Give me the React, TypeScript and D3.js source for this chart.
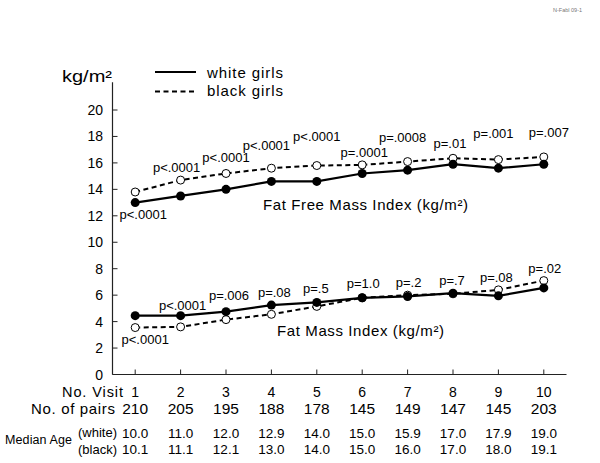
import * as d3 from "d3";

const visits = [1, 2, 3, 4, 5, 6, 7, 8, 9, 10];
const ffmiWhite = [13.0, 13.5, 14.0, 14.6, 14.6, 15.2, 15.45, 15.9, 15.6, 15.9];
const ffmiBlack = [13.8, 14.7, 15.2, 15.6, 15.8, 15.85, 16.1, 16.35, 16.25, 16.45];
const fmiWhite = [4.45, 4.45, 4.75, 5.25, 5.45, 5.8, 5.9, 6.15, 5.95, 6.55];
const fmiBlack = [3.55, 3.6, 4.15, 4.55, 5.15, 5.8, 6.0, 6.1, 6.4, 7.1];
const ffmiP = ["p<.0001", "p<.0001", "p<.0001", "p<.0001", "p<.0001", "p=.0001", "p=.0008", "p=.01", "p=.001", "p=.007"];
const fmiP = ["p<.0001", "p<.0001", "p=.006", "p=.08", "p=.5", "p=1.0", "p=.2", "p=.7", "p=.08", "p=.02"];
const pairs = [210, 205, 195, 188, 178, 145, 149, 147, 145, 203];
const ageWhite = ["10.0", "11.0", "12.0", "12.9", "14.0", "15.0", "15.9", "17.0", "17.9", "19.0"];
const ageBlack = ["10.1", "11.1", "12.1", "13.0", "14.0", "15.0", "16.0", "17.0", "18.0", "19.1"];
const yTicks = [0, 2, 4, 6, 8, 10, 12, 14, 16, 18, 20];

// where the p-value labels sit, relative to the upper point of each pair (px)
const ffmiLabelDx = [8, -4, 0, -5, 0, 2, -5, -3, -5, 5];
const ffmiLabelDy = [23, -13, -16, -23, -29, -12, -24, -15, -26, -24];
const fmiLabelDx = [10, 2, 3, 3, -1, 1, 1, -1, -2, 1];
const fmiLabelDy = [24, -10, -16, -13, -14, -14, -13, -13, -12, -12];

const font = "'Liberation Sans', Arial, Helvetica, sans-serif";

export default function App() {
  const width = 600,
    height = 463;
  const x = d3.scaleLinear().domain([0.5, 10.5]).range([112.5, 566.5]);
  const y = d3.scaleLinear().domain([0, 20]).range([374.5, 110]);

  const line = d3
    .line<number>()
    .x((d, i) => x(visits[i]))
    .y((d) => y(d));

  const series = [
    { white: ffmiWhite, black: ffmiBlack, p: ffmiP, dx: ffmiLabelDx, dy: ffmiLabelDy },
    { white: fmiWhite, black: fmiBlack, p: fmiP, dx: fmiLabelDx, dy: fmiLabelDy },
  ];

  return (
    <svg
      width={width}
      height={height}
      style={{ position: "absolute", left: 0, top: 0, background: "#fff" }}
      fontFamily={font}
    >
      <rect x={0} y={0} width={width} height={height} fill="#fff" />
      <text x={553} y={12} fontSize={5.5} fill="#777">
        N-Fabl 09-1
      </text>

      {/* y axis */}
      <line x1={x(0.5)} x2={x(0.5)} y1={y(22.1)} y2={y(0)} stroke="#222" strokeWidth={1.2} />
      {yTicks.map((t) => (
        <g key={t}>
          <line x1={x(0.5)} x2={x(0.5) + 5} y1={y(t)} y2={y(t)} stroke="#222" strokeWidth={1} />
          <text x={103} y={y(t)} textAnchor="end" dominantBaseline="central" fontSize={14}>
            {t}
          </text>
        </g>
      ))}
      <text x={62} y={76} dominantBaseline="central" fontSize={16} textLength={50} lengthAdjust="spacingAndGlyphs">
        kg/m²
      </text>

      {/* x axis */}
      <line x1={x(0.5)} x2={x(10.5)} y1={y(0)} y2={y(0)} stroke="#222" strokeWidth={1.2} />
      {visits.map((v) => (
        <line key={v} x1={x(v)} x2={x(v)} y1={y(0)} y2={y(0) - 5} stroke="#222" strokeWidth={1} />
      ))}

      {/* legend */}
      <line x1={155} x2={196} y1={72} y2={72} stroke="#000" strokeWidth={2.2} />
      <line x1={155} x2={196} y1={91.5} y2={91.5} stroke="#000" strokeWidth={2} strokeDasharray="5,3.5" />
      <text x={207} y={72} dominantBaseline="central" fontSize={15} textLength={76}>
        white girls
      </text>
      <text x={207} y={90.5} dominantBaseline="central" fontSize={15} textLength={76}>
        black girls
      </text>

      {/* series */}
      {series.map((s, k) => (
        <g key={k}>
          <path d={line(s.black) ?? ""} fill="none" stroke="#000" strokeWidth={2} strokeDasharray="5,3.5" />
          {s.black.map((d, i) => (
            <circle key={i} cx={x(visits[i])} cy={y(d)} r={4} fill="#fff" stroke="#000" strokeWidth={1} />
          ))}
          <path d={line(s.white) ?? ""} fill="none" stroke="#000" strokeWidth={2.2} />
          {s.white.map((d, i) => (
            <circle key={i} cx={x(visits[i])} cy={y(d)} r={4.5} fill="#000" />
          ))}
          {s.p.map((p, i) => (
            <text
              key={i}
              x={x(visits[i]) + s.dx[i]}
              y={Math.min(y(s.white[i]), y(s.black[i])) + s.dy[i]}
              textAnchor="middle"
              dominantBaseline="central"
              fontSize={13}
            >
              {p}
            </text>
          ))}
        </g>
      ))}

      <text x={263} y={204} dominantBaseline="central" fontSize={15} textLength={205}>
        Fat Free Mass Index (kg/m²)
      </text>
      <text x={277} y={330} dominantBaseline="central" fontSize={15} textLength={167}>
        Fat Mass Index (kg/m²)
      </text>

      {/* table under the axis */}
      <text x={123} y={391.5} textAnchor="end" dominantBaseline="central" fontSize={14.5} textLength={61}>
        No. Visit
      </text>
      <text x={115} y={408.5} textAnchor="end" dominantBaseline="central" fontSize={15} textLength={84}>
        No. of pairs
      </text>
      {visits.map((v, i) => (
        <g key={v}>
          <text x={x(v)} y={391.5} textAnchor="middle" dominantBaseline="central" fontSize={14}>
            {v}
          </text>
          <text x={x(v)} y={408.5} textAnchor="middle" dominantBaseline="central" fontSize={15.5}>
            {pairs[i]}
          </text>
          <text x={x(v)} y={433} textAnchor="middle" dominantBaseline="central" fontSize={13.5}>
            {ageWhite[i]}
          </text>
          <text x={x(v)} y={449} textAnchor="middle" dominantBaseline="central" fontSize={13.5}>
            {ageBlack[i]}
          </text>
        </g>
      ))}
      <text x={5} y={440} dominantBaseline="central" fontSize={12.5} textLength={67}>
        Median Age
      </text>
      <text x={78} y={432} dominantBaseline="central" fontSize={13} textLength={39}>
        (white)
      </text>
      <text x={78} y={449} dominantBaseline="central" fontSize={13} textLength={39}>
        (black)
      </text>
    </svg>
  );
}
